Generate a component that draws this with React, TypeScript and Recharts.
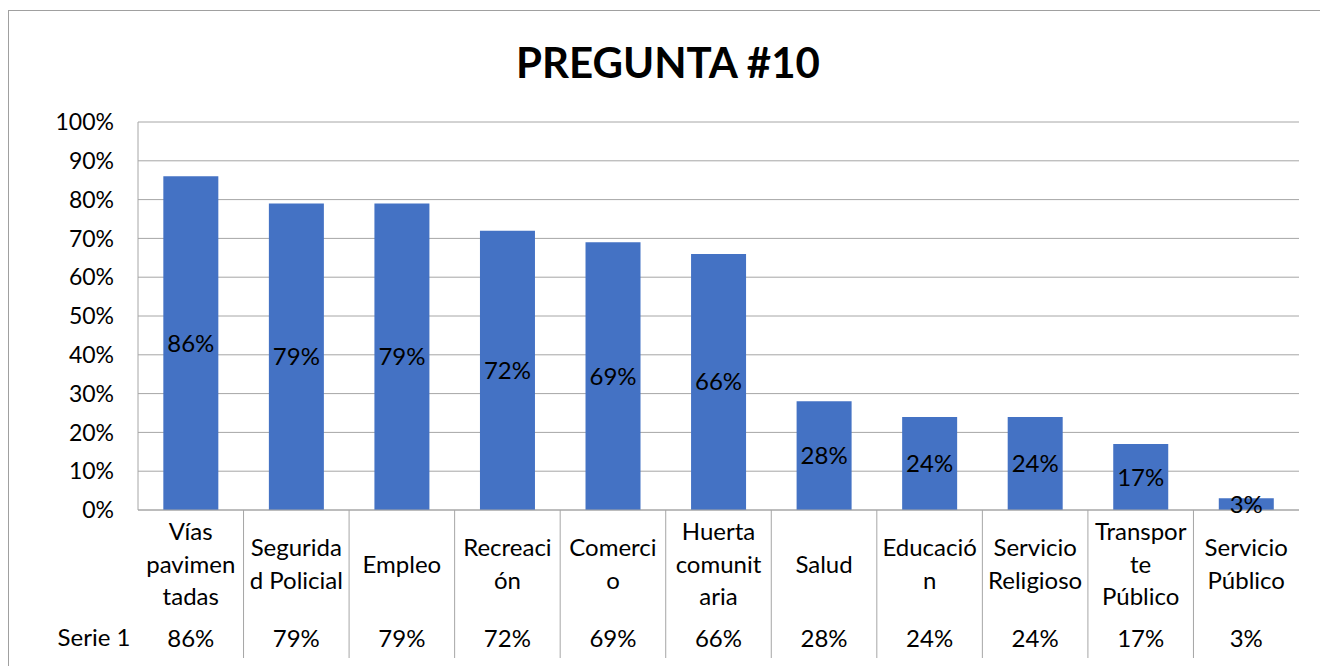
import { Bar, BarChart, CartesianGrid, LabelList, XAxis, YAxis } from "recharts";

const categories = [
  "Vías pavimentadas",
  "Seguridad Policial",
  "Empleo",
  "Recreación",
  "Comercio",
  "Huerta comunitaria",
  "Salud",
  "Educación",
  "Servicio Religioso",
  "Transporte Público",
  "Servicio Público",
];

// how Excel wrapped each category label
const labelLines = [
  ["Vías", "pavimen", "tadas"],
  ["Segurida", "d Policial"],
  ["Empleo"],
  ["Recreaci", "ón"],
  ["Comerci", "o"],
  ["Huerta", "comunit", "aria"],
  ["Salud"],
  ["Educació", "n"],
  ["Servicio", "Religioso"],
  ["Transpor", "te", "Público"],
  ["Servicio", "Público"],
];

const serie1 = [86, 79, 79, 72, 69, 66, 28, 24, 24, 17, 3];

const yTicks = [0, 10, 20, 30, 40, 50, 60, 70, 80, 90, 100];

const FONT = "Lato, 'Open Sans', sans-serif";
const GRID = "#a6a6a6";

const rows = categories.map((name, i) => ({ name, value: serie1[i] }));

function CategoryTick(props: any) {
  const { x, y, payload, index } = props;
  const lines = labelLines[index] ?? [payload.value];
  const half = payload.offset ?? 52.8;
  const lineH = 32.5;
  const mid = y + 53;
  return (
    <g>
      {index < categories.length - 1 && (
        <line x1={x + half} x2={x + half} y1={y} y2={y + 148} stroke={GRID} strokeWidth={1} />
      )}
      <text textAnchor="middle" fontSize={24} fill="#000" fontFamily={FONT}>
        {lines.map((l: string, i: number) => (
          <tspan key={i} x={x} y={mid + (i - (lines.length - 1) / 2) * lineH} dominantBaseline="central">
            {l}
          </tspan>
        ))}
      </text>
      <text x={x} y={y + 127} textAnchor="middle" dominantBaseline="central" fontSize={24} fill="#000" fontFamily={FONT}>
        {serie1[index]}%
      </text>
    </g>
  );
}

export default function App() {
  return (
    <div style={{ position: "fixed", left: 0, top: 0, width: 1320, height: 666, background: "#fff", overflow: "hidden" }}>
      <div
        style={{
          position: "absolute",
          left: 8,
          top: 10,
          width: 1330,
          height: 670,
          border: "1.3px solid #a0a0a0",
          boxSizing: "border-box",
        }}
      />
      <div
        style={{
          position: "absolute",
          left: 0,
          width: 1320,
          top: 35,
          textAlign: "center",
          fontFamily: FONT,
          fontWeight: 700,
          fontSize: 42,
          lineHeight: "54px",
          color: "#000",
          paddingLeft: 16,
          boxSizing: "border-box",
        }}
      >
        PREGUNTA #10
      </div>
      <div
        style={{
          position: "absolute",
          left: 44,
          width: 100,
          top: 621,
          textAlign: "center",
          fontFamily: FONT,
          fontSize: 24,
          lineHeight: "32px",
          color: "#000",
        }}
      >
        Serie 1
      </div>
      <div style={{ position: "absolute", left: 0, top: 0 }}>
        <BarChart
          width={1320}
          height={666}
          data={rows}
          margin={{ top: 122, right: 21, bottom: 8, left: 8 }}
          barCategoryGap="24%"
        >
          <CartesianGrid vertical={false} stroke={GRID} strokeWidth={1} />
          <XAxis
            dataKey="name"
            interval={0}
            height={148}
            tickLine={false}
            tickSize={0}
            tickMargin={0}
            axisLine={{ stroke: GRID, strokeWidth: 1 }}
            tick={<CategoryTick />}
          />
          <YAxis
            width={130}
            domain={[0, 100]}
            ticks={yTicks}
            interval={0}
            tickLine={false}
            tickSize={0}
            tickMargin={24}
            axisLine={{ stroke: GRID, strokeWidth: 1 }}
            tickFormatter={(v: number) => `${v}%`}
            tick={{ fontSize: 23, fill: "#000", fontFamily: FONT }}
          />
          <Bar dataKey="value" fill="#4472C4" isAnimationActive={false}>
            <LabelList
              dataKey="value"
              position="center"
              formatter={(v: any) => `${v}%`}
              style={{ fontSize: 24, fill: "#000", fontFamily: FONT }}
            />
          </Bar>
        </BarChart>
      </div>
    </div>
  );
}
